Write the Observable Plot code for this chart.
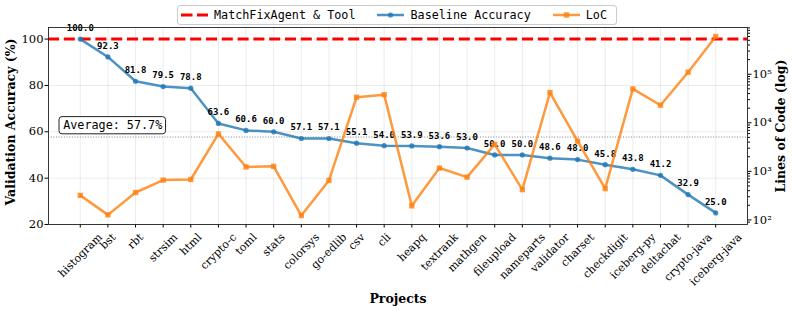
<!DOCTYPE html>
<html><head><meta charset="utf-8">
<script src="https://cdn.jsdelivr.net/npm/d3@7"></script>
<script src="https://cdn.jsdelivr.net/npm/@observablehq/plot@0.6"></script>
<style>
body{margin:0;background:#fff;}
#wrap{position:relative;width:793px;height:310px;overflow:hidden;}
#legend{position:absolute;left:177px;top:5px;width:440px;height:20px;border:1px solid #ccc;border-radius:3px;background:#fff;box-sizing:border-box;font:11.75px "DejaVu Sans Mono";display:flex;align-items:center;padding-left:3px;color:#000;white-space:nowrap;}
#legend .item{display:flex;align-items:center;margin-right:22px;flex-shrink:0;}
#legend svg{margin-right:6px;flex-shrink:0;}
</style>
</head><body>
<div id="wrap"><div id="chart"></div><div id="legend"></div></div>
<script>
const projects = ["histogram","bst","rbt","strsim","html","crypto-c","toml","stats","colorsys","go-edlib","csv","cli","heapq","textrank","mathgen","fileupload","nameparts","validator","charset","checkdigit","iceberg-py","deltachat","crypto-java","iceberg-java"];
const accuracy = [100.0,92.3,81.8,79.5,78.8,63.6,60.6,60.0,57.1,57.1,55.1,54.0,53.9,53.6,53.0,50.0,50.0,48.6,48.0,45.8,43.8,41.2,32.9,25.0];
const linesOfCode = [320,127,367,660,680,5900,1230,1270,123,650,33600,38000,195,1170,760,3600,420,42000,4200,440,50000,23000,110000,600000];
const toolAccuracy = 100;
const leftTicks = [20,40,60,80,100];
const locTicks = [100,1000,10000,100000];
const locTickLabels = ["10²","10³","10⁴","10⁵"];
const seriesNames = ["MatchFixAgent & Tool","Baseline Accuracy","LoC"];
const axisTitles = {left:"Validation Accuracy (%)", right:"Lines of Code (log)", x:"Projects"};

const blue = "#1f77b4", orange = "#ff7f0e", red = "#ff0000";
const leftDomain = [20,105];
const lo = Math.log10(d3.min(linesOfCode)), hi = Math.log10(d3.max(linesOfCode));
const pad = 0.05*(hi-lo);
const locDomain = [10**(lo-pad), 10**(hi+pad)];
const locToLeft = d3.scaleLog().domain(locDomain).range(leftDomain);

const rows = projects.map((p,i)=>({project:p, accuracy:accuracy[i], loc:linesOfCode[i], locY:locToLeft(linesOfCode[i])}));
const average = d3.mean(accuracy);

const minor = [];
for (let e=1;e<=6;e++) for (let k=2;k<=9;k++){const v=k*10**e; if(v>=locDomain[0]&&v<=locDomain[1]) minor.push(locToLeft(v));}
const majorMap = new Map(locTicks.map((t,i)=>[locToLeft(t), locTickLabels[i]]));

const ctx = document.createElement("canvas").getContext("2d");
const tickFont = 11;
ctx.font = `${tickFont}px "DejaVu Serif"`;
const xLabelMarks = projects.map(p=>{
  const w = ctx.measureText(p).width;
  const dy = 6.5 + (w + 1.1*tickFont)*Math.SQRT1_2/2;
  return Plot.text([p], {x:d=>d, text:d=>d, frameAnchor:"bottom", dy, rotate:-45, textAnchor:"middle", lineAnchor:"middle", fontSize:tickFont, fontFamily:"DejaVu Serif", fill:"#000"});
});

const chart = Plot.plot({
  width:793, height:310,
  marginLeft:48, marginRight:46, marginTop:27, marginBottom:86,
  style:{fontFamily:"DejaVu Serif", fontSize:"11.5px", color:"#000", background:"#fff"},
  x:{type:"point", domain:projects, padding:1.15, round:false},
  y:{domain:leftDomain},
  marks:[
    Plot.gridX(projects, {stroke:"#b0b0b0", strokeOpacity:0.3, strokeWidth:0.8}),
    Plot.gridY(leftTicks, {stroke:"#b0b0b0", strokeOpacity:0.3, strokeWidth:0.8}),
    Plot.ruleY([toolAccuracy], {stroke:red, strokeWidth:3, strokeDasharray:"11,4.8"}),
    Plot.ruleY([average], {stroke:"gray", strokeWidth:1, strokeDasharray:"1,1.65"}),
    Plot.line(rows, {x:"project", y:"accuracy", stroke:blue, strokeWidth:2.5, strokeOpacity:0.8}),
    Plot.dot(rows, {x:"project", y:"accuracy", r:2.6, fill:blue, fillOpacity:0.8, stroke:null}),
    Plot.text(rows, {x:"project", y:"accuracy", text:d=>d.accuracy.toFixed(1), dy:-11, lineAnchor:"middle", fontFamily:"DejaVu Sans Mono", fontWeight:"bold", fontSize:9, fill:"#000"}),
    Plot.text([average], {y:d=>d+5, text:d=>`Average: ${d.toFixed(1)}%`, frameAnchor:"left", dx:14.7, textAnchor:"start", lineAnchor:"middle", fontFamily:"DejaVu Sans Mono", fontSize:11.75, fill:"#000"}),
    Plot.line(rows, {x:"project", y:"locY", stroke:orange, strokeWidth:2.5, strokeOpacity:0.8}),
    Plot.dot(rows, {x:"project", y:"locY", symbol:"square", r:3, fill:orange, fillOpacity:0.8, stroke:null}),
    Plot.axisY({ticks:leftTicks, tickSize:3.5, tickPadding:1.5, label:null, fontSize:11.5}),
    Plot.axisY({anchor:"right", ticks:[...majorMap.keys()], tickFormat:d=>majorMap.get(d), tickSize:3.5, tickPadding:1.5, label:null, fontSize:11.5}),
    Plot.axisY({anchor:"right", ticks:minor, tickFormat:()=>"", tickSize:2, label:null}),
    Plot.axisX({ticks:projects, tickFormat:()=>"", tickSize:3.5, label:null}),
    ...xLabelMarks,
    Plot.text([axisTitles.left], {text:d=>d, frameAnchor:"left", dx:-38, dy:-4, rotate:-90, textAnchor:"middle", lineAnchor:"middle", fontWeight:"bold", fontSize:12.5, fontFamily:"DejaVu Serif", fill:"#000"}),
    Plot.text([axisTitles.right], {text:d=>d, frameAnchor:"right", dx:33, rotate:-90, textAnchor:"middle", lineAnchor:"middle", fontWeight:"bold", fontSize:12.5, fontFamily:"DejaVu Serif", fill:"#000"}),
    Plot.text([axisTitles.x], {text:d=>d, frameAnchor:"bottom", dy:74, lineAnchor:"middle", fontWeight:"bold", fontSize:12.5, fontFamily:"DejaVu Serif", fill:"#000"}),
    Plot.frame({stroke:"#222", strokeWidth:0.9})
  ]
});
document.getElementById("chart").appendChild(chart);

// rounded box behind the average annotation
for (const t of chart.querySelectorAll("text")) {
  if (t.textContent.startsWith("Average")) {
    const b = t.getBBox();
    const ns = "http://www.w3.org/2000/svg";
    const r = document.createElementNS(ns, "rect");
    r.setAttribute("x", b.x - 4.2); r.setAttribute("y", b.y - 1.6);
    r.setAttribute("width", b.width + 7.5); r.setAttribute("height", b.height + 3.2);
    r.setAttribute("rx", 3); r.setAttribute("fill", "#fff"); r.setAttribute("fill-opacity", 0.9);
    r.setAttribute("stroke", "#222"); r.setAttribute("stroke-width", 1);
    const tr = t.getAttribute("transform");
    if (tr) r.setAttribute("transform", tr);
    t.parentNode.insertBefore(r, t);
  }
}

// legend
const legend = document.getElementById("legend");
const swatches = [
  `<svg width="27" height="12"><line x1="0" y1="6" x2="27" y2="6" stroke="${red}" stroke-width="3" stroke-dasharray="11.5,4.5"/></svg>`,
  `<svg width="27" height="12"><line x1="0" y1="6" x2="27" y2="6" stroke="${blue}" stroke-opacity="0.8" stroke-width="2.5"/><circle cx="13.5" cy="6" r="2.6" fill="${blue}" fill-opacity="0.8"/></svg>`,
  `<svg width="27" height="12"><line x1="0" y1="6" x2="27" y2="6" stroke="${orange}" stroke-opacity="0.8" stroke-width="2.5"/><rect x="10.8" y="3.3" width="5.4" height="5.4" fill="${orange}" fill-opacity="0.8"/></svg>`
];
seriesNames.forEach((n,i)=>{
  const d = document.createElement("div");
  d.className = "item";
  d.innerHTML = swatches[i] + `<span>${n.replace("&","&amp;")}</span>`;
  legend.appendChild(d);
});
</script>
</body></html>
